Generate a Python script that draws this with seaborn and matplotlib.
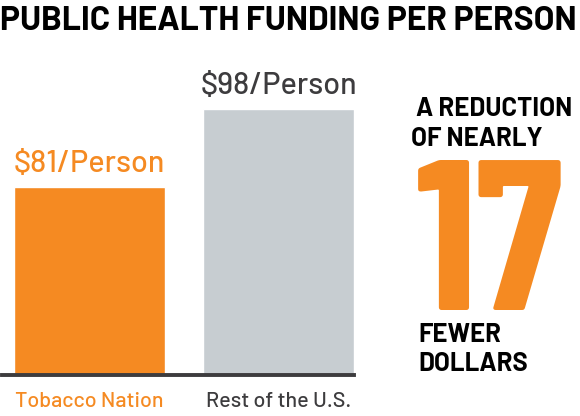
# Public health funding per person: Tobacco Nation vs rest of the U.S.
import matplotlib
matplotlib.use("Agg")
import matplotlib.pyplot as plt
import seaborn as sns

# -------------------------------
# Data
# -------------------------------
regions = ["Tobacco Nation", "Rest of the U.S."]
funding = [81, 98]
value_labels = ["$81/Person", "$98/Person"]
difference = 17

ORANGE = "#f58a22"
GRAY_BAR = "#c7cdd1"
DARK = "#3d3c3e"

sns.set_theme(style="white")
LABEL_FONT = ["Barlow", "Roboto", "DejaVu Sans"]
BOLD_FONT = ["Barlow", "Roboto", "DejaVu Sans"]
BIG_FONT = ["Barlow Condensed", "Roboto", "DejaVu Sans"]
plt.rcParams["font.family"] = LABEL_FONT

W, H = 580, 416
fig = plt.figure(figsize=(W / 100, H / 100), dpi=100)

def fx(px):
    return px / W

def fy(py):
    return 1 - py / H

# axes: x from px 2 to 354, y from px 100 to 375
ax = fig.add_axes([fx(2), fy(375), fx(352), 275 / H])
sns.barplot(x=regions, y=funding, hue=regions, palette=[ORANGE, GRAY_BAR],
            width=0.8, legend=False, ax=ax, saturation=1)
ax.set_xlim(-0.4635, 1.4)
ax.set_ylim(40, 100)

for s in ["top", "left", "right"]:
    ax.spines[s].set_visible(False)
ax.spines["bottom"].set_color(DARK)
ax.spines["bottom"].set_linewidth(2.8)
ax.set_yticks([])
ax.set_xlabel("")
ax.set_ylabel("")
ax.tick_params(axis="x", length=0, pad=12, labelsize=15.5)
label_colors = [ORANGE, DARK]
for lbl, c in zip(ax.get_xticklabels(), label_colors):
    lbl.set_color(c)
    lbl.set_fontweight(500)

# value labels above bars
for i, (v, t) in enumerate(zip(funding, value_labels)):
    ax.annotate(t, (i, v), xytext=(0, 11), textcoords="offset points",
                ha="center", va="baseline", fontsize=22, fontweight=500,
                color=label_colors[i])

# title, sized so it spans the full width like the original
title = fig.text(fx(0), fy(30), "PUBLIC HEALTH FUNDING PER PERSON", ha="left",
                 va="baseline", fontsize=24, fontweight="bold", color="black",
                 family=BOLD_FONT)
renderer = fig.canvas.get_renderer()
tw = title.get_window_extent(renderer).width
title.set_fontsize(24 * 577 / tw)

# callout on the right
callout = dict(ha="left", va="baseline", fontsize=18.5, fontweight="bold",
               color="black", family=BOLD_FONT)
fig.text(fx(416), fy(116), "A REDUCTION", **callout)
fig.text(fx(411), fy(146), "OF NEARLY", **callout)
fig.text(fx(490), fy(310), str(difference), ha="center", va="baseline",
         fontsize=154, fontweight="bold", color=ORANGE, family=BIG_FONT)
fig.text(fx(418), fy(342), "FEWER", **callout)
fig.text(fx(418), fy(371), "DOLLARS", **callout)

fig.savefig("out.png", dpi=100)
